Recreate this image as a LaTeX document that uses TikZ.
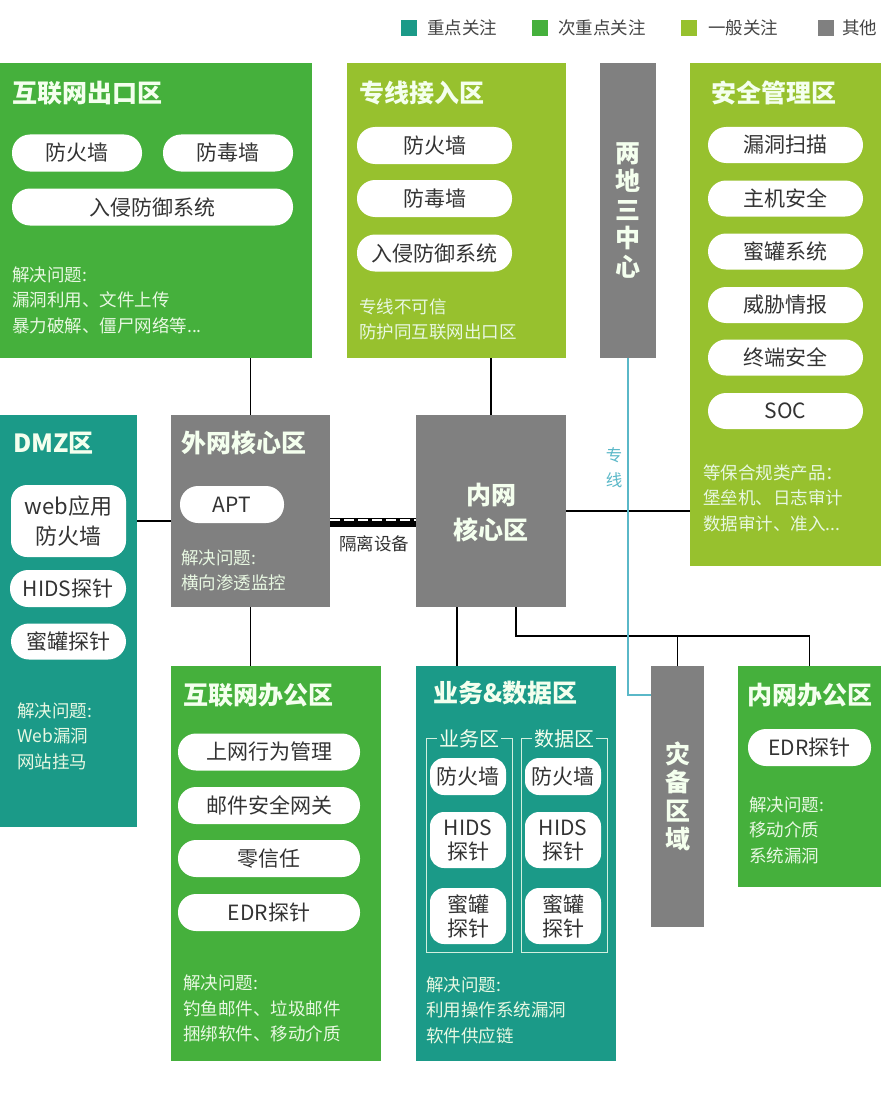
\documentclass[tikz,border=0pt]{standalone}
\usepackage{fontspec}
\setmainfont{Noto Sans CJK SC}
\definecolor{cTeal}{HTML}{1B9A88}
\definecolor{cGreen}{HTML}{45B03C}
\definecolor{cYellow}{HTML}{97C12E}
\definecolor{cGray}{HTML}{808080}
\definecolor{cCyan}{HTML}{5AB8C8}
\definecolor{titlec}{HTML}{F4FFEE}
\definecolor{bodyc}{HTML}{E8F8E2}
\definecolor{pilltext}{HTML}{333333}
\definecolor{legtext}{HTML}{444444}
\begin{document}
\begin{tikzpicture}[x=1pt,y=-1pt,
  zone/.style={rectangle,draw=none,inner sep=0pt,outer sep=0pt,anchor=north west},
  ttl/.style={anchor=west,inner sep=0pt,text=titlec,font=\bfseries\fontsize{25}{28}\selectfont},
  vtxt/.style={inner sep=0pt,text=titlec,align=center,font=\bfseries\fontsize{25}{28.5}\selectfont},
  pill/.style={rectangle,fill=white,rounded corners=18pt,inner sep=0pt,text=pilltext,align=center,font=\fontsize{21}{24}\selectfont},
  bpill/.style={pill,rounded corners=14pt,minimum width=76pt},
  body/.style={anchor=north west,inner sep=0pt,align=left,text=bodyc,font=\fontsize{17.5}{25.5}\selectfont},
  legsq/.style={rectangle,inner sep=0pt,minimum size=16pt},
  legtx/.style={anchor=west,inner sep=0pt,text=legtext,font=\fontsize{17.5}{20}\selectfont},
  conn/.style={draw=black,line width=1.3pt},
  sublbl/.style={fill=cTeal,inner sep=2pt,text=titlec,font=\fontsize{20}{22}\selectfont}]
\useasboundingbox (0,0) rectangle (881,1097);
\fill[white] (0,0) rectangle (881,1097);

% legend
\node[legsq,fill=cTeal] (lg1) at (409,28) {};
\node[legtx] (lt1) at (427,28) {重点关注};
\node[legsq,fill=cGreen] (lg2) at (540,28) {};
\node[legtx] (lt2) at (558,28) {次重点关注};
\node[legsq,fill=cYellow] (lg3) at (689,28) {};
\node[legtx] (lt3) at (708,28) {一般关注};
\node[legsq,fill=cGray] (lg4) at (826,28) {};
\node[legtx] (lt4) at (842,28) {其他};

\coordinate (isoY) at (0,522);
\coordinate (dmzY) at (0,521);
\coordinate (c457) at (457,0);
\coordinate (cyY) at (0,695);

% zones
\node[zone,fill=cGreen,minimum width=312pt,minimum height=295pt] (inet) at (0,63) {};
\node[zone,fill=cYellow,minimum width=219pt,minimum height=295pt] (zx) at (347,63) {};
\node[zone,fill=cGray,minimum width=56pt,minimum height=295pt] (tc) at (600,63) {};
\node[zone,fill=cYellow,minimum width=191pt,minimum height=503pt] (sec) at (690,63) {};
\node[zone,fill=cTeal,minimum width=137pt,minimum height=412pt] (dmz) at (0,415) {};
\node[zone,fill=cGray,minimum width=159pt,minimum height=192pt] (wcore) at (171,415) {};
\node[zone,fill=cGray,minimum width=150pt,minimum height=192pt] (ncore) at (416,415) {};
\node[zone,fill=cGreen,minimum width=210pt,minimum height=395pt] (ioff) at (171,666) {};
\node[zone,fill=cTeal,minimum width=200pt,minimum height=395pt] (biz) at (416,666) {};
\node[zone,fill=cGray,minimum width=53pt,minimum height=261pt] (dr) at (651,666) {};
\node[zone,fill=cGreen,minimum width=143pt,minimum height=221pt] (noff) at (738,666) {};

% black connectors
\draw[conn] (wcore.north |- inet.south) -- (wcore.north);
\draw[conn] (ncore.north |- zx.south) -- (ncore.north);
\draw[conn] (dmz.east |- dmzY) -- (wcore.west |- dmzY);
\draw[conn] (ncore.east) -- (sec.west |- ncore.east);
\draw[conn] (wcore.south) -- (wcore.south |- ioff.north);
\draw[conn] (c457 |- ncore.south) -- (c457 |- biz.north);
\draw[conn] (ncore.south -| biz.north) -- ++(0,29) coordinate (bus) -| (noff.north);
\draw[conn] (dr.north) -- (dr.north |- bus);
% isolation device
\draw[line width=9pt] (wcore.east |- isoY) -- (ncore.west |- isoY);
\draw[white,line width=1.8pt,dash pattern=on 10pt off 4pt] ([yshift=2pt]wcore.east |- isoY) -- ([yshift=2pt]ncore.west |- isoY);
\node[inner sep=0pt,text=pilltext,font=\fontsize{17.5}{20}\selectfont] (isol) at (374,544) {隔离设备};
% dedicated line
\draw[cCyan,line width=2.6pt] (tc.south) -- (tc.south |- cyY) -- (dr.west |- cyY);
\node[inner sep=0pt,text=cCyan,align=center,font=\fontsize{16.5}{25}\selectfont] (zxl) at (614,468) {专\\线};

% titles
\node[ttl] (t1) at (12,93) {互联网出口区};
\node[ttl] (t2) at (359,93) {专线接入区};
\node[ttl] (t3) at (711,93) {安全管理区};
\node[ttl] (t4) at (13,443) {DMZ区};
\node[ttl] (t5) at (181,443) {外网核心区};
\node[ttl] (t6) at (183,695) {互联网办公区};
\node[ttl] (t7) at (433,693) {业务\&数据区};
\node[ttl] (t8) at (747,695) {内网办公区};
\node[vtxt] (t9) at (tc.center) {两\\地\\三\\中\\心};
\node[vtxt] (t10) at (dr.center) {灾\\备\\区\\域};
\node[vtxt,font=\bfseries\fontsize{25}{35}\selectfont] (t11) at (491,512.5) {内网\\核心区};

% internet exit pills
\node[pill,minimum width=130pt,minimum height=37pt] (p1) at (77,153) {防火墙};
\node[pill,minimum width=130pt,minimum height=37pt] (p2) at (228,153) {防毒墙};
\node[pill,minimum width=281pt,minimum height=37pt] (p3) at (152.5,207) {入侵防御系统};
\node[body] (b1) at (12,266.5) {解决问题:\\漏洞利用、文件上传\\暴力破解、僵尸网络等...};

% dedicated access pills
\node[pill,minimum width=155pt,minimum height=37pt] (p4) at (434.5,145.5) {防火墙};
\node[pill,minimum width=155pt,minimum height=37pt] (p5) at (434.5,198.5) {防毒墙};
\node[pill,minimum width=155pt,minimum height=37pt] (p6) at (434.5,253) {入侵防御系统};
\node[body] (b2) at (359,298.5) {专线不可信\\防护同互联网出口区};

% security management pills
\node[pill,minimum width=155pt,minimum height=36pt] (p7) at (785.5,145) {漏洞扫描};
\node[pill,minimum width=155pt,minimum height=36pt] (p8) at (785.5,198.5) {主机安全};
\node[pill,minimum width=155pt,minimum height=36pt] (p9) at (785.5,251.5) {蜜罐系统};
\node[pill,minimum width=155pt,minimum height=36pt] (p10) at (785.5,305) {威胁情报};
\node[pill,minimum width=155pt,minimum height=36pt] (p11) at (785.5,357.5) {终端安全};
\node[pill,minimum width=155pt,minimum height=36pt] (p12) at (785.5,411) {SOC};
\node[body] (b3) at (703,464.5) {等保合规类产品：\\堡垒机、日志审计\\数据审计、准入...};

% DMZ pills
\node[pill,rounded corners=16pt,minimum width=115pt,minimum height=72pt,font=\fontsize{22}{30}\selectfont] (p13) at (68.5,521) {web应用\\防火墙};
\node[pill,minimum width=116pt,minimum height=37pt] (p14) at (68,588.5) {HIDS探针};
\node[pill,minimum width=115pt,minimum height=36pt] (p15) at (68.5,641.5) {蜜罐探针};
\node[body] (b4) at (17,702.5) {解决问题:\\Web漏洞\\网站挂马};

% external core
\node[pill,minimum width=104pt,minimum height=37pt] (p16) at (232,504.5) {APT};
\node[body] (b5) at (181,549.5) {解决问题:\\横向渗透监控};

% internet office
\node[pill,minimum width=182pt,minimum height=37pt] (p17) at (269,752) {上网行为管理};
\node[pill,minimum width=182pt,minimum height=37pt] (p18) at (269,805.5) {邮件安全网关};
\node[pill,minimum width=182pt,minimum height=37pt] (p19) at (269,858.5) {零信任};
\node[pill,minimum width=182pt,minimum height=37pt] (p20) at (269,912.5) {EDR探针};
\node[body] (b6) at (183,975) {解决问题:\\钓鱼邮件、垃圾邮件\\捆绑软件、移动介质};

% business & data
\draw[draw=titlec!85!cTeal,line width=0.9pt] (426,738) rectangle (512,952);
\draw[draw=titlec!85!cTeal,line width=0.9pt] (521,738) rectangle (607,952);
\node[sublbl] (s1) at (469,739) {业务区};
\node[sublbl] (s2) at (564,739) {数据区};
\node[bpill,minimum height=37pt] (p21) at (468,776.5) {防火墙};
\node[bpill,minimum height=56pt] (p22) at (468,840) {HIDS\\探针};
\node[bpill,minimum height=56pt] (p23) at (468,916) {蜜罐\\探针};
\node[bpill,minimum height=37pt] (p24) at (563,776.5) {防火墙};
\node[bpill,minimum height=56pt] (p25) at (563,840) {HIDS\\探针};
\node[bpill,minimum height=56pt] (p26) at (563,916) {蜜罐\\探针};
\node[body] (b7) at (426,976.5) {解决问题:\\利用操作系统漏洞\\软件供应链};

% intranet office
\node[pill,minimum width=123pt,minimum height=37pt] (p27) at (809.5,747.5) {EDR探针};
\node[body] (b8) at (749,796.5) {解决问题:\\移动介质\\系统漏洞};
\end{tikzpicture}
\end{document}
